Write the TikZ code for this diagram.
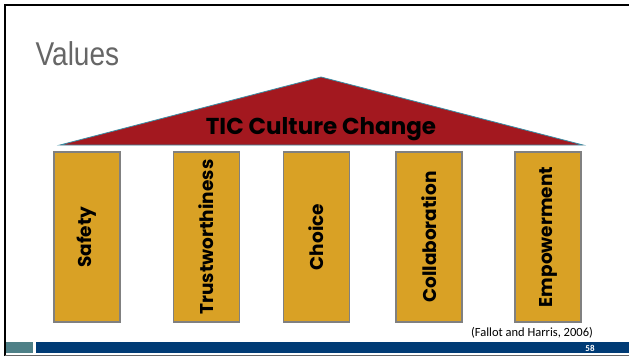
\documentclass[tikz,border=0pt]{standalone}
\usepackage{fontspec}
\setmainfont{Carlito}
\newfontfamily\titlefont[FakeStretch=0.85]{Liberation Sans}
\newfontfamily\pillarfont{Poppins}
\usetikzlibrary{positioning}

\definecolor{roofred}{HTML}{A3181F}
\definecolor{roofline}{HTML}{3A8CA3}
\definecolor{gold}{HTML}{D9A125}
\definecolor{barblue}{HTML}{003B75}
\definecolor{barteal}{HTML}{4E8087}

\begin{document}
\begin{tikzpicture}[x=1pt,y=-1pt,
    pillar/.style={draw=black!50,line width=1.3pt,fill=gold,rotate=90,
      minimum width=170pt,minimum height=66pt,inner sep=0pt,
      font=\pillarfont\bfseries\fontsize{18.5}{20}\selectfont},
    roof/.style={fill=roofred,draw=roofline,line width=0.8pt}]

  \useasboundingbox (0,0) rectangle (629,356);
  \fill[white] (0,0) rectangle (629,356);

  % slide frame and footer
  \draw[line width=2pt] (5,356) -- (5,5) -- (629,5);
  \draw[line width=1.2pt,black!60] (5,355.5) -- (629,355.5);
  \fill[barteal] (6,342) rectangle (33,353);
  \fill[barblue] (36,342) rectangle (629,353);
  \node[text=white,font=\bfseries\fontsize{9}{10}\selectfont] (page) at (590,348) {58};
  \node[font=\fontsize{12.5}{14}\selectfont] (ref) at (532,333) {(Fallot and Harris, 2006)};

  \node[text=black!60,font=\titlefont\fontsize{33}{36}\selectfont,anchor=west]
    (title) at (32,54) {Values};

  % roof
  \coordinate (apex) at (321,77);
  \coordinate (baseL) at (60,145);
  \coordinate (baseR) at (583,145);
  \path[roof] (baseL) -- (apex) -- (baseR) -- cycle;
  \node[font=\pillarfont\bfseries\fontsize{23}{25}\selectfont] (tic) at (321,129)
    {TIC Culture Change};

  % pillars
  \node[pillar] (p1) at (87,237) {Safety};
  \node[pillar] (p2) at (206.5,237) {Trustworthiness};
  \node[pillar] (p3) at (316.5,237) {Choice};
  \node[pillar] (p4) at (429,237) {Collaboration};
  \node[pillar] (p5) at (548,237) {Empowerment};

\end{tikzpicture}
\end{document}
